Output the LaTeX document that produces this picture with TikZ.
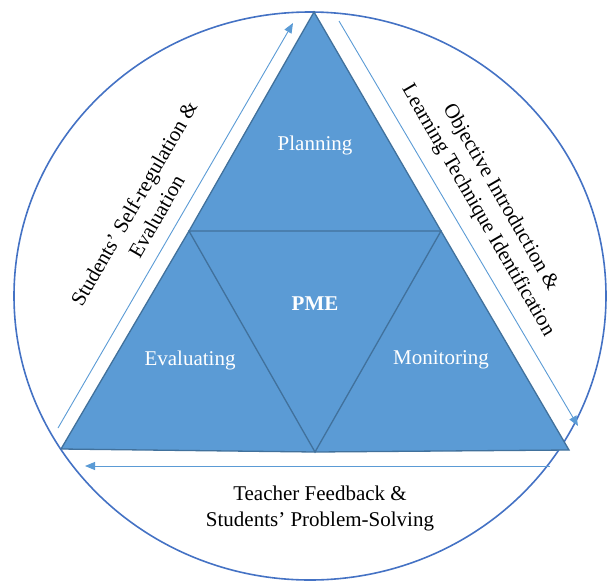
\documentclass[tikz,border=0pt]{standalone}
\usepackage{fontspec}
\setmainfont{Liberation Serif}
\usetikzlibrary{arrows.meta}
\definecolor{fillblue}{HTML}{5B9BD5}
\definecolor{edgeblue}{HTML}{41719C}
\definecolor{ringblue}{HTML}{4472C4}
\begin{document}
\begin{tikzpicture}[x=1pt,y=-1pt,
  lab/.style={font=\fontsize{21}{26}\selectfont, align=center, inner sep=0pt},
  inlab/.style={lab, text=white},
  flow/.style={draw=fillblue, line width=0.9pt, -{Triangle[length=10pt,width=8pt]}},
  edge/.style={draw=edgeblue, line width=1.3pt, line join=miter}]
\useasboundingbox (0,0) rectangle (608,582);
\coordinate (A) at (314,12);
\coordinate (BL) at (61,449);
\coordinate (BR) at (569,450);
\coordinate (ML) at (189,231);
\coordinate (MR) at (441,231);
\coordinate (MB) at (315,452);
\draw[ringblue, line width=1.6pt] (310,296) ellipse [x radius=296, y radius=284];
\fill[fillblue] (A) -- (MR) -- (BR) -- (MB) -- (BL) -- (ML) -- cycle;
\draw[edge] (A) -- (MR) -- (BR) -- (MB) -- (BL) -- (ML) -- cycle;
\draw[edge] (ML) -- (MR) -- (MB) -- cycle;
\coordinate (l1) at (58,428);
\coordinate (l2) at (293,23);
\coordinate (r1) at (339,21);
\coordinate (r2) at (578,426);
\coordinate (b1) at (550,466);
\coordinate (b2) at (85,466);
\draw[flow] (l1) -- (l2);
\draw[flow] (r1) -- (r2);
\draw[flow] (b1) -- (b2);
\node[inlab] (plan) at (315,145) {Planning};
\node[inlab, font=\fontsize{21}{26}\selectfont\bfseries] (pme) at (315,304) {PME};
\node[inlab] (eval) at (190,360) {Evaluating};
\node[inlab] (moni) at (441,360) {Monitoring};
\node[lab, rotate=60] (sse) at (145,210) {Students’ Self-regulation \&\\Evaluation};
\node[lab, rotate=-60] (oil) at (489,204) {Objective Introduction \&\\Learning Technique Identification};
\node[lab] (tfp) at (320,508) {Teacher Feedback \&\\Students’ Problem-Solving};
\end{tikzpicture}
\end{document}
